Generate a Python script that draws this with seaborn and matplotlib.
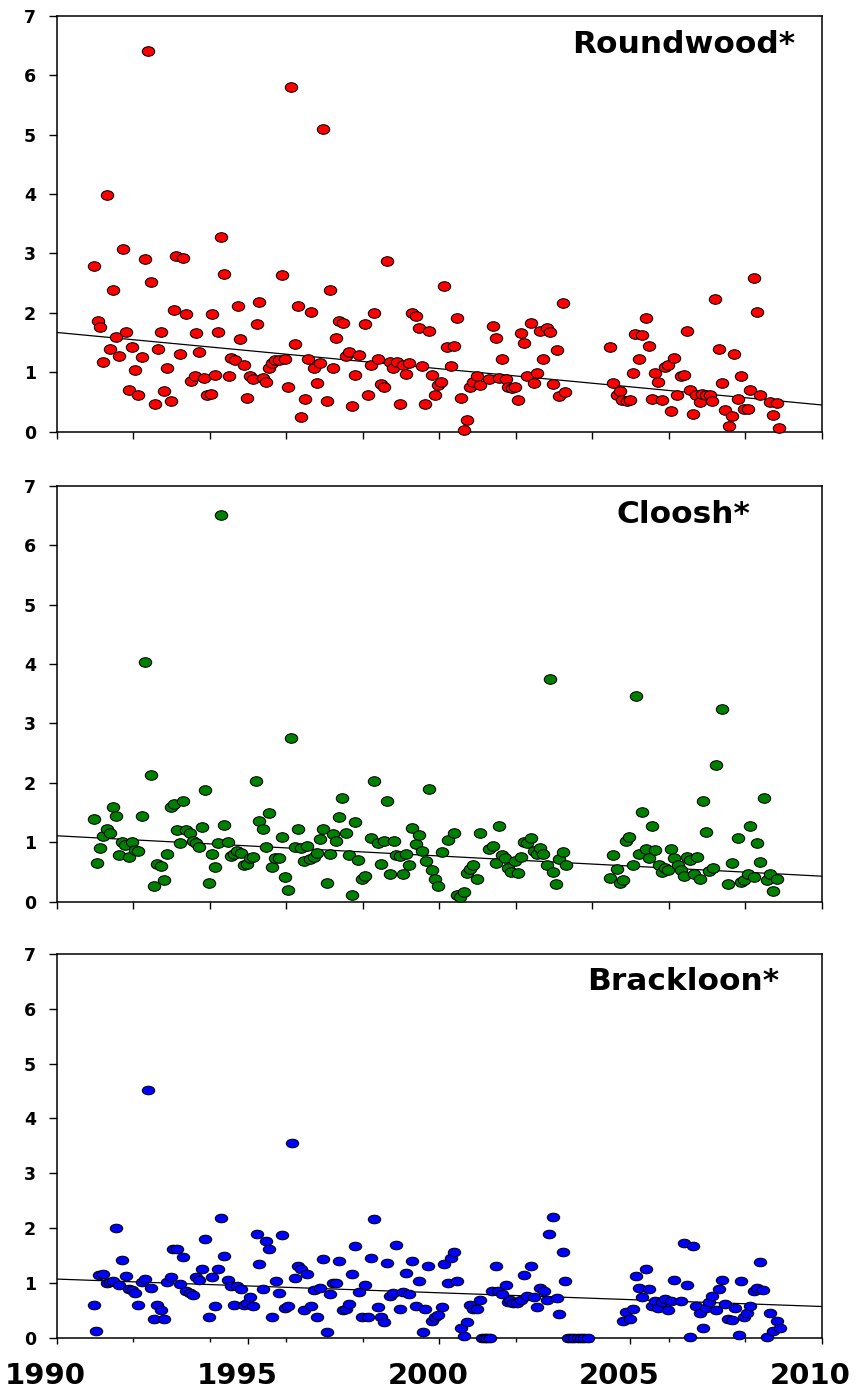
import pandas as pd
import seaborn as sns
import matplotlib.pyplot as plt
from matplotlib.path import Path
from matplotlib.transforms import Affine2D, ScaledTranslation
from matplotlib.ticker import FixedLocator

# Roundwood* (red)
rw_year = [1990.97, 1991.07, 1991.14, 1991.22, 1991.31, 1991.39, 1991.46, 1991.56, 1991.64, 1991.73,
           1991.81, 1991.88, 1991.97, 1992.06, 1992.13, 1992.22, 1992.31, 1992.39, 1992.47, 1992.56,
           1992.64, 1992.73, 1992.81, 1992.88, 1992.98, 1993.06, 1993.11, 1993.22, 1993.31, 1993.39,
           1993.52, 1993.61, 1993.64, 1993.73, 1993.86, 1993.92, 1994.04, 1994.06, 1994.15, 1994.22,
           1994.30, 1994.38, 1994.50, 1994.55, 1994.66, 1994.73, 1994.80, 1994.90, 1994.98, 1995.06,
           1995.14, 1995.23, 1995.30, 1995.39, 1995.48, 1995.55, 1995.63, 1995.72, 1995.80, 1995.89,
           1995.98, 1996.06, 1996.13, 1996.22, 1996.31, 1996.40, 1996.48, 1996.57, 1996.64, 1996.73,
           1996.81, 1996.88, 1996.97, 1997.06, 1997.15, 1997.22, 1997.30, 1997.39, 1997.48, 1997.56,
           1997.65, 1997.72, 1997.81, 1997.90, 1998.06, 1998.14, 1998.22, 1998.30, 1998.39, 1998.47,
           1998.56, 1998.64, 1998.71, 1998.80, 1998.89, 1998.98, 1999.05, 1999.13, 1999.22, 1999.30,
           1999.39, 1999.47, 1999.56, 1999.64, 1999.73, 1999.81, 1999.89, 1999.98, 2000.06, 2000.13,
           2000.21, 2000.31, 2000.39, 2000.47, 2000.56, 2000.64, 2000.73, 2000.81, 2000.89, 2000.98,
           2001.07, 2001.31, 2001.40, 2001.49, 2001.56, 2001.65, 2001.74, 2001.81, 2001.90, 2001.99,
           2002.06, 2002.14, 2002.23, 2002.30, 2002.39, 2002.48, 2002.56, 2002.64, 2002.72, 2002.81,
           2002.90, 2002.98, 2003.07, 2003.14, 2003.23, 2003.30,
           2004.47, 2004.55, 2004.64, 2004.73, 2004.79, 2004.90, 2004.99, 2005.06, 2005.13, 2005.22,
           2005.31, 2005.40, 2005.48, 2005.56, 2005.65, 2005.73, 2005.82, 2005.90, 2005.98, 2006.06,
           2006.15, 2006.23, 2006.31, 2006.40, 2006.47, 2006.56, 2006.64, 2006.71, 2006.82, 2006.88,
           2006.97, 2007.08, 2007.14, 2007.22, 2007.31, 2007.39, 2007.46, 2007.57, 2007.65, 2007.72,
           2007.82, 2007.88, 2007.97, 2008.07, 2008.13, 2008.23, 2008.32, 2008.39, 2008.65, 2008.72,
           2008.82, 2008.89]
rw_value = [2.79, 1.87, 1.77, 1.18, 3.99, 1.39, 2.38, 1.60, 1.27, 3.08,
            1.68, 0.70, 1.42, 1.03, 0.62, 1.26, 2.91, 6.41, 2.52, 0.47,
            1.39, 1.68, 0.69, 1.07, 0.52, 2.04, 2.95, 1.30, 2.93, 1.98,
            0.86, 0.94, 1.66, 1.34, 0.90, 0.62, 0.64, 1.98, 0.96, 1.67,
            3.28, 2.65, 0.94, 1.24, 1.20, 2.11, 1.56, 1.13, 0.57, 0.94,
            0.89, 1.82, 2.18, 0.91, 0.83, 1.08, 1.15, 1.20, 1.20, 2.63,
            1.23, 0.75, 5.80, 1.48, 2.12, 0.25, 0.55, 1.22, 2.01, 1.08,
            0.82, 1.16, 5.09, 0.52, 2.38, 1.07, 1.58, 1.87, 1.83, 1.28,
            1.34, 0.43, 0.96, 1.29, 1.81, 0.62, 1.13, 1.99, 1.23, 0.80,
            0.76, 2.87, 1.17, 1.07, 1.18, 0.47, 1.13, 0.97, 1.15, 1.99,
            1.94, 1.75, 1.11, 0.47, 1.70, 0.95, 0.61, 0.79, 0.84, 2.46,
            1.43, 1.11, 1.45, 1.91, 0.57, 0.03, 0.19, 0.75, 0.84, 0.94,
            0.79, 0.89, 1.78, 1.58, 0.91, 1.22, 0.89, 0.76, 0.73, 0.75,
            0.53, 1.66, 1.49, 0.93, 1.83, 0.82, 0.98, 1.70, 1.22, 1.74,
            1.67, 0.80, 1.37, 0.60, 2.17, 0.67,
            1.43, 0.82, 0.61, 0.69, 0.53, 0.51, 0.53, 0.99, 1.65, 1.23,
            1.63, 1.92, 1.44, 0.55, 0.98, 0.83, 0.53, 1.09, 1.13, 0.34,
            1.24, 0.62, 0.94, 0.95, 1.70, 0.70, 0.30, 0.62, 0.50, 0.63,
            0.61, 0.62, 0.52, 2.23, 1.40, 0.82, 0.36, 0.10, 0.26, 1.31,
            0.55, 0.94, 0.38, 0.39, 0.70, 2.59, 2.02, 0.62, 0.50, 0.28,
            0.49, 0.07]

# Cloosh* (green)
cl_year = [1990.97, 1991.06, 1991.13, 1991.22, 1991.31, 1991.39, 1991.47, 1991.56, 1991.64, 1991.71,
           1991.79, 1991.89, 1991.97, 1992.05, 1992.13, 1992.22, 1992.31, 1992.47, 1992.55, 1992.63,
           1992.73, 1992.81, 1992.89, 1992.98, 1993.07, 1993.14, 1993.22, 1993.31, 1993.39, 1993.48,
           1993.56, 1993.64, 1993.73, 1993.80, 1993.88, 1993.98, 1994.06, 1994.14, 1994.22, 1994.30,
           1994.38, 1994.48, 1994.56, 1994.64, 1994.72, 1994.81, 1994.89, 1994.98, 1995.05, 1995.14,
           1995.22, 1995.30, 1995.39, 1995.47, 1995.55, 1995.63, 1995.72, 1995.80, 1995.88, 1995.98,
           1996.06, 1996.13, 1996.22, 1996.31, 1996.39, 1996.47, 1996.55, 1996.63, 1996.72, 1996.80,
           1996.88, 1996.97, 1997.06, 1997.14, 1997.22, 1997.31, 1997.39, 1997.47, 1997.56, 1997.64,
           1997.72, 1997.81, 1997.89, 1997.97, 1998.06, 1998.22, 1998.30, 1998.39, 1998.47, 1998.56,
           1998.64, 1998.72, 1998.81, 1998.88, 1998.97, 1999.06, 1999.13, 1999.22, 1999.30, 1999.39,
           1999.47, 1999.56, 1999.65, 1999.73, 1999.81, 1999.89, 1999.98, 2000.07, 2000.22, 2000.39,
           2000.47, 2000.55, 2000.64, 2000.73, 2000.81, 2000.89, 2000.98, 2001.07, 2001.31, 2001.40,
           2001.48, 2001.56, 2001.64, 2001.73, 2001.81, 2001.89, 2001.98, 2002.06, 2002.14, 2002.22,
           2002.30, 2002.39, 2002.47, 2002.56, 2002.64, 2002.72, 2002.81, 2002.90, 2002.97, 2003.06,
           2003.14, 2003.23, 2003.31,
           2004.47, 2004.55, 2004.66, 2004.73, 2004.81, 2004.88, 2004.97, 2005.06, 2005.15, 2005.22,
           2005.31, 2005.40, 2005.48, 2005.56, 2005.65, 2005.74, 2005.82, 2005.90, 2005.98, 2006.06,
           2006.15, 2006.24, 2006.31, 2006.40, 2006.49, 2006.56, 2006.65, 2006.74, 2006.83, 2006.89,
           2006.98, 2007.06, 2007.15, 2007.23, 2007.40, 2007.56, 2007.65, 2007.81, 2007.89, 2007.98,
           2008.07, 2008.13, 2008.23, 2008.31, 2008.40, 2008.48, 2008.56, 2008.65, 2008.74, 2008.82]
cl_value = [1.40, 0.66, 0.90, 1.11, 1.23, 1.16, 1.59, 1.45, 0.79, 1.00,
            0.96, 0.75, 1.00, 0.87, 0.86, 1.45, 4.04, 2.13, 0.26, 0.64,
            0.60, 0.37, 0.81, 1.60, 1.65, 1.21, 0.98, 1.70, 1.21, 1.15,
            1.02, 0.99, 0.92, 1.25, 1.88, 0.31, 0.80, 0.58, 0.99, 6.50,
            1.29, 1.00, 0.77, 0.80, 0.85, 0.82, 0.61, 0.64, 0.74, 0.75,
            2.03, 1.36, 1.23, 0.92, 1.50, 0.59, 0.74, 0.74, 1.09, 0.41,
            0.20, 2.75, 0.92, 1.23, 0.91, 0.69, 0.94, 0.72, 0.76, 0.82,
            1.05, 1.22, 0.31, 0.80, 1.14, 1.02, 1.43, 1.74, 1.16, 0.78,
            0.12, 1.34, 0.71, 0.38, 0.43, 1.07, 2.04, 0.99, 0.63, 1.03,
            1.69, 0.46, 1.02, 0.78, 0.77, 0.47, 0.81, 0.61, 1.24, 0.97,
            1.12, 0.86, 0.68, 1.89, 0.53, 0.39, 0.27, 0.83, 1.04, 1.16,
            0.12, 0.08, 0.16, 0.48, 0.55, 0.61, 0.38, 1.15, 0.89, 0.94,
            0.66, 1.28, 0.78, 0.74, 0.57, 0.50, 0.69, 0.49, 0.76, 1.00,
            0.98, 1.08, 0.86, 0.81, 0.91, 0.81, 0.61, 3.74, 0.50, 0.30,
            0.72, 0.83, 0.61,
            0.40, 0.78, 0.55, 0.31, 0.36, 1.03, 1.09, 0.62, 3.46, 0.80,
            1.51, 0.88, 0.73, 1.28, 0.87, 0.61, 0.50, 0.57, 0.54, 0.89,
            0.74, 0.61, 0.53, 0.44, 0.76, 0.70, 0.46, 0.75, 0.38, 1.69,
            1.18, 0.52, 0.56, 2.30, 3.25, 0.30, 0.66, 1.08, 0.33, 0.36,
            0.46, 1.28, 0.42, 0.99, 0.67, 1.74, 0.36, 0.46, 0.18, 0.38]

# Brackloon* (blue)
br_year = [1990.97, 1991.04, 1991.10, 1991.22, 1991.31, 1991.39, 1991.47, 1991.56, 1991.64, 1991.71,
           1991.81, 1991.89, 1991.98, 1992.06, 1992.13, 1992.22, 1992.31, 1992.38, 1992.47, 1992.55,
           1992.63, 1992.73, 1992.81, 1992.89, 1992.98, 1993.05, 1993.14, 1993.22, 1993.31, 1993.39,
           1993.48, 1993.56, 1993.64, 1993.73, 1993.81, 1993.89, 1993.99, 1994.06, 1994.14, 1994.22,
           1994.30, 1994.38, 1994.47, 1994.56, 1994.64, 1994.72, 1994.81, 1994.89, 1994.98, 1995.05,
           1995.14, 1995.23, 1995.30, 1995.39, 1995.47, 1995.55, 1995.64, 1995.73, 1995.80, 1995.89,
           1995.97, 1996.05, 1996.14, 1996.22, 1996.30, 1996.39, 1996.47, 1996.55, 1996.64, 1996.72,
           1996.80, 1996.89, 1996.97, 1997.06, 1997.15, 1997.22, 1997.30, 1997.39, 1997.48, 1997.56,
           1997.64, 1997.72, 1997.81, 1997.90, 1997.97, 1998.06, 1998.14, 1998.22, 1998.30, 1998.39,
           1998.47, 1998.56, 1998.64, 1998.71, 1998.80, 1998.88, 1998.97, 1999.05, 1999.13, 1999.22,
           1999.30, 1999.39, 1999.47, 1999.58, 1999.64, 1999.72, 1999.81, 1999.89, 1999.98, 2000.07,
           2000.13, 2000.22, 2000.30, 2000.39, 2000.47, 2000.56, 2000.64, 2000.73, 2000.81, 2000.89,
           2000.98, 2001.07, 2001.12, 2001.19, 2001.26, 2001.32, 2001.38, 2001.49, 2001.55, 2001.64,
           2001.74, 2001.80, 2001.85, 2001.94, 2002.03, 2002.13, 2002.23, 2002.30, 2002.39, 2002.47,
           2002.56, 2002.64, 2002.73, 2002.82, 2002.88, 2002.97, 2003.07, 2003.14, 2003.23, 2003.30,
           2003.36, 2003.45, 2003.53, 2003.62, 2003.70, 2003.79, 2003.88,
           2004.80, 2004.88, 2004.98, 2005.06, 2005.15, 2005.22, 2005.30, 2005.41, 2005.48, 2005.56,
           2005.64, 2005.73, 2005.82, 2005.90, 2005.98, 2006.07, 2006.15, 2006.31, 2006.40, 2006.47,
           2006.56, 2006.64, 2006.72, 2006.81, 2006.89, 2006.97, 2007.05, 2007.14, 2007.23, 2007.31,
           2007.39, 2007.47, 2007.56, 2007.66, 2007.73, 2007.83, 2007.89, 2007.96, 2008.05, 2008.13,
           2008.23, 2008.32, 2008.39, 2008.47, 2008.56, 2008.65, 2008.73, 2008.82, 2008.90]
br_value = [0.59, 0.13, 1.14, 1.17, 0.99, 1.01, 1.03, 2.00, 0.97, 1.42,
            1.12, 0.89, 0.87, 0.81, 0.59, 1.02, 1.08, 4.51, 0.91, 0.34,
            0.59, 0.50, 0.34, 1.02, 1.11, 1.61, 1.62, 0.98, 1.48, 0.85,
            0.81, 0.78, 1.10, 1.05, 1.25, 1.81, 0.38, 1.10, 0.57, 1.26,
            2.19, 1.50, 1.05, 0.95, 0.59, 0.95, 0.89, 0.59, 0.63, 0.74,
            0.57, 1.89, 1.34, 0.88, 1.76, 1.62, 0.37, 1.03, 0.81, 1.87,
            0.54, 0.57, 3.55, 1.09, 1.31, 1.25, 0.51, 1.16, 0.57, 0.87,
            0.37, 0.91, 1.44, 0.10, 0.80, 0.99, 0.99, 1.40, 0.51, 0.53,
            0.61, 1.17, 1.67, 0.84, 0.37, 0.96, 0.37, 1.46, 2.17, 0.56,
            0.38, 0.29, 1.36, 0.77, 0.81, 1.70, 0.53, 0.83, 1.19, 0.79,
            1.40, 0.57, 1.04, 0.10, 0.52, 1.30, 0.31, 0.37, 0.41, 0.56,
            1.34, 1.00, 1.45, 1.56, 1.04, 0.18, 0.03, 0.29, 0.59, 0.53,
            0.52, 0.69, 0.00, 0.00, 0.00, 0.00, 0.85, 1.30, 0.86, 0.80,
            0.97, 0.66, 0.69, 0.64, 0.63, 0.69, 1.14, 0.76, 1.30, 0.75,
            0.56, 0.91, 0.85, 0.69, 1.90, 2.21, 0.72, 0.43, 1.56, 1.03,
            0.00, 0.00, 0.00, 0.00, 0.00, 0.00, 0.00,
            0.31, 0.47, 0.34, 0.53, 1.13, 0.91, 0.75, 1.25, 0.88, 0.58,
            0.67, 0.55, 0.66, 0.71, 0.50, 0.67, 1.05, 0.67, 1.73, 0.97,
            0.01, 1.67, 0.58, 0.45, 0.18, 0.54, 0.65, 0.76, 0.50, 0.88,
            1.06, 0.62, 0.35, 0.33, 0.55, 0.05, 1.04, 0.37, 0.45, 0.58,
            0.86, 0.90, 1.38, 0.87, 0.01, 0.45, 0.13, 0.30, 0.18]

# fitted trend lines, read at the two ends of the x range
trend_years = [1990, 2010]
rw_trend = [1.67, 0.45]
cl_trend = [1.11, 0.43]
br_trend = [1.07, 0.57]

panels = [
    ('Roundwood*', rw_year, rw_value, rw_trend, '#ff0000'),
    ('Cloosh*', cl_year, cl_value, cl_trend, '#008000'),
    ('Brackloon*', br_year, br_value, br_trend, '#0000ff'),
]

sns.set_style('ticks')
plt.rcParams['font.family'] = ['DejaVu Sans']
plt.rcParams['font.weight'] = 'bold'
plt.rcParams['text.color'] = 'black'
plt.rcParams['xtick.color'] = 'black'
plt.rcParams['ytick.color'] = 'black'
plt.rcParams['axes.edgecolor'] = 'black'

fig = plt.figure(figsize=(8.63, 13.89), dpi=100)
rects = [[0.0657, 0.6892, 0.8864, 0.2995],
         [0.0657, 0.3508, 0.8864, 0.2995],
         [0.0657, 0.0369, 0.8864, 0.2763]]
stretch = [1.3, 1.3, 1.45]
title_y = [0.910, 0.910, 0.906]

for i, (name, years, values, trend, col) in enumerate(panels):
    ax = fig.add_axes(rects[i])
    df = pd.DataFrame({'year': years, 'value': values})
    ellipse = Path.unit_circle().transformed(Affine2D().scale(stretch[i], 1.0))

    sns.lineplot(x=trend_years, y=trend, ax=ax, color='black', linewidth=0.9, zorder=2)
    sns.scatterplot(data=df, x='year', y='value', ax=ax, marker=ellipse, s=80,
                    color=col, edgecolor='black', linewidth=0.75, clip_on=False,
                    zorder=3, legend=False)

    ax.set_xlim(1990, 2010)
    ax.set_ylim(0, 7)
    ax.set_xlabel('')
    ax.set_ylabel('')
    ax.set_yticks(range(0, 8))
    for sp in ax.spines.values():
        sp.set_visible(True)
        sp.set_linewidth(1.1)
        sp.set_color('black')
    ax.tick_params(axis='y', direction='out', length=5.8, width=1, labelsize=12.5,
                   pad=9, colors='black')

    if i < 2:
        ax.set_xticks(range(1990, 2011, 2))
        ax.set_xticklabels([])
        ax.tick_params(axis='x', direction='out', length=5, width=1, colors='black')
    else:
        ax.set_xticks([1990, 1995, 2000, 2005, 2010])
        ax.xaxis.set_minor_locator(FixedLocator(range(1990, 2011, 2)))
        ax.tick_params(axis='x', which='major', direction='out', length=4.5, width=1,
                       labelsize=21, pad=13, colors='black')
        ax.tick_params(axis='x', which='minor', direction='out', length=3, width=1,
                       colors='black')
        # the year labels sit a little left of their ticks in the original
        shift = ScaledTranslation(-11 / 100, 0, fig.dpi_scale_trans)
        for lab in ax.get_xticklabels():
            lab.set_transform(lab.get_transform() + shift)

    ax.text(0.819, title_y[i], name, transform=ax.transAxes, ha='center',
            va='baseline', fontsize=22.5, fontweight='bold', color='black')

fig.savefig('out.png', dpi=100)
